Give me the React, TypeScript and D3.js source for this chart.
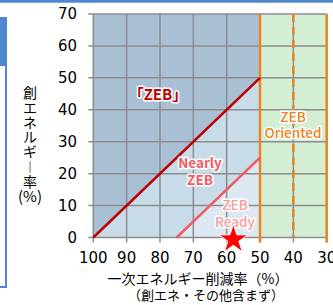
import React from "react";
import * as d3 from "d3";

// axis ticks
const xTicks = [100, 90, 80, 70, 60, 50, 40, 30];
const yTicks = [0, 10, 20, 30, 40, 50, 60, 70];

// boundary lines (reduction %, creation %)
const zebLine: [number, number][] = [[100, 0], [50, 50]];
const nearlyLine: [number, number][] = [[75, 0], [50, 25]];
const orientedBounds = [50, 30];
const orientedMid = 40;
const starPoint: [number, number] = [58, 0];

// vertical y-axis title, one glyph per row (︱ = vertical long-vowel mark)
const yTitleChars = ["創", "エ", "ネ", "ル", "ギ", "︱", "率"];

export default function App() {
  const x = d3.scaleLinear().domain([100, 30]).range([93.3, 326.7]);
  const y = d3.scaleLinear().domain([0, 70]).range([237.5, 14]);

  const line = d3.line<[number, number]>().x((d) => x(d[0])).y((d) => y(d[1]));

  const darkPoly: [number, number][] = [[100, 0], [100, 70], [50, 70], zebLine[1]];
  const midPoly: [number, number][] = [zebLine[0], zebLine[1], nearlyLine[1], nearlyLine[0]];
  const lightPoly: [number, number][] = [nearlyLine[0], nearlyLine[1], [50, 0]];

  const star = d3.symbol().type(d3.symbolStar).size(260)();

  const outline = { stroke: "#fff", strokeWidth: 3, paintOrder: "stroke" as const, strokeLinejoin: "round" as const };
  const jp = "'Noto Sans CJK JP', sans-serif";
  const num = "'DejaVu Sans', sans-serif";

  return (
    <svg width={333} height={305} style={{ position: "absolute", left: 0, top: 0, display: "block" }}>
      <rect width={333} height={305} fill="#fff" />
      {/* panel decoration */}
      <rect x={0} y={0} width={333} height={2.7} fill="#4f86d0" />
      <rect x={0} y={17} width={7} height={49} fill="#4f86d0" />
      <rect x={5} y={66} width={2} height={222} fill="#4f86d0" />
      <rect x={0} y={286} width={7} height={2} fill="#4f86d0" />

      {/* regions */}
      <rect x={x(orientedBounds[0])} y={y(70)} width={x(orientedBounds[1]) - x(orientedBounds[0])} height={y(0) - y(70)} fill="#d4eed3" />
      <path d={line(darkPoly) + "Z"} fill="#a8bfd4" />
      <path d={line(midPoly) + "Z"} fill="#c7dbe9" />
      <path d={line(lightPoly) + "Z"} fill="#dde9f2" />

      {/* grid */}
      {yTicks.map((t) => (
        <line key={"h" + t} x1={x(100) - 5} x2={x(30)} y1={y(t)} y2={y(t)} stroke="#8c8c8c" strokeWidth={1.5} />
      ))}
      {xTicks.map((t) => (
        <line key={"v" + t} x1={x(t)} x2={x(t)} y1={y(70)} y2={y(0) + 5} stroke="#8c8c8c" strokeWidth={1.5} />
      ))}

      {/* orange bounds */}
      {orientedBounds.map((t) => (
        <line key={"o" + t} x1={x(t)} x2={x(t)} y1={y(70)} y2={y(0) + 5} stroke="#ea8420" strokeWidth={2.5} />
      ))}
      <line x1={x(orientedMid)} x2={x(orientedMid)} y1={y(70)} y2={y(0)} stroke="#ea8420" strokeWidth={2.5} strokeDasharray="8,5" />

      {/* boundary lines */}
      <path d={line(zebLine)!} stroke="#c00000" strokeWidth={2.5} fill="none" />
      <path d={line(nearlyLine)!} stroke="#f25a64" strokeWidth={2.5} fill="none" />

      {/* tick labels */}
      {yTicks.map((t) => (
        <text key={"yl" + t} x={77} y={y(t)} dy="0.36em" textAnchor="end" fontSize={15} fontFamily={num} fill="#000">
          {t}
        </text>
      ))}
      {xTicks.map((t) => (
        <text key={"xl" + t} x={x(t)} y={258} dy="0.36em" textAnchor="middle" fontSize={15} fontFamily={num} fill="#000">
          {t}
        </text>
      ))}

      {/* labels */}
      <text x={158} y={95} dy="0.36em" textAnchor="middle" fontSize={15} fontWeight="bold" fontFamily={jp} fill="#c00000" {...outline}>
        「ZEB」
      </text>
      <g fontSize={13.5} fontWeight="bold" fontFamily={jp} fill="#f25a64" textAnchor="middle" {...outline}>
        <text x={200} y={163} dy="0.36em">Nearly</text>
        <text x={200} y={180} dy="0.36em">ZEB</text>
      </g>
      <g fontSize={13.5} fontWeight={500} fontFamily={jp} fill="#ff9a9a" textAnchor="middle" {...outline}>
        <text x={235} y={205} dy="0.36em">ZEB</text>
        <text x={235} y={222} dy="0.36em">Ready</text>
      </g>
      <g fontSize={13.5} fontWeight={500} fontFamily={jp} fill="#ea8420" textAnchor="middle" {...outline}>
        <text x={293} y={117} dy="0.36em">ZEB</text>
        <text x={293} y={133} dy="0.36em">Oriented</text>
      </g>

      {/* star */}
      <path d={star!} transform={`translate(${x(starPoint[0])},${y(starPoint[1]) + 2})`} fill="#ff0000" stroke="#fff" strokeWidth={1} />

      {/* axis titles */}
      <text fontSize={14} fontFamily={jp} fill="#000" textAnchor="middle">
        {yTitleChars.map((c, i) => (
          <tspan key={"yt" + i} x={30} y={93 + i * 14.8} dy="0.36em">
            {c}
          </tspan>
        ))}
      </text>
      <text x={30} y={197} dy="0.36em" textAnchor="middle" fontSize={15} fontFamily={jp} fill="#000">(%)</text>
      <text x={198} y={279} dy="0.36em" textAnchor="middle" fontSize={14} fontFamily={jp} fill="#000">
        一次エネルギー削減率（%）
      </text>
      <text x={206} y={295} dy="0.36em" textAnchor="middle" fontSize={13} fontFamily={jp} fill="#000">
        （創エネ・その他含まず）
      </text>
    </svg>
  );
}
